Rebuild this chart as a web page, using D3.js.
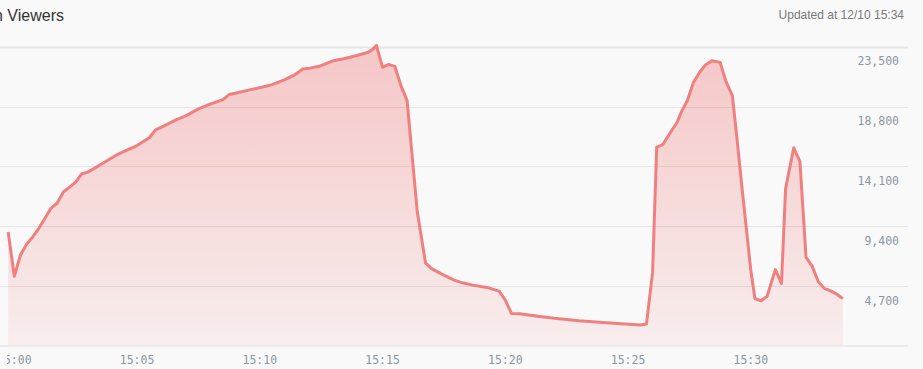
<html>
<head>
<title>Viewers</title>
<script src="https://cdn.jsdelivr.net/npm/d3@7"></script>
<style>
body {
   margin: 0;
   background: #f9f9f9;
   overflow: hidden;
}
</style>
</head>
<body>
<div id="canvas"></div>
</body>

<script>

var times = ["14:59:45", "15:00:00", "15:00:15", "15:00:30", "15:00:45", "15:01:00", "15:01:15", "15:01:30",
             "15:01:45", "15:02:00", "15:02:15", "15:02:30", "15:02:45", "15:03:00", "15:03:30", "15:04:15",
             "15:05:00", "15:05:30", "15:05:45", "15:06:00", "15:06:35", "15:07:00", "15:07:30", "15:08:00",
             "15:08:30", "15:08:45", "15:09:00", "15:09:35", "15:10:15", "15:10:30", "15:11:00", "15:11:25",
             "15:11:45", "15:12:00", "15:12:25", "15:13:00", "15:13:25", "15:13:55", "15:14:25", "15:14:35",
             "15:14:45", "15:15:00", "15:15:15", "15:15:30", "15:15:45", "15:16:00", "15:16:25", "15:16:45",
             "15:17:00", "15:17:25", "15:17:55", "15:18:15", "15:18:40", "15:19:15", "15:19:45", "15:20:00",
             "15:20:15", "15:20:35", "15:21:15", "15:22:00", "15:23:00", "15:24:25", "15:25:30", "15:25:45",
             "15:26:00", "15:26:10", "15:26:25", "15:26:45", "15:27:00", "15:27:10", "15:27:25", "15:27:40",
             "15:27:55", "15:28:10", "15:28:25", "15:28:45", "15:29:00", "15:29:15", "15:29:25", "15:29:40",
             "15:30:00", "15:30:10", "15:30:25", "15:30:40", "15:31:00", "15:31:15", "15:31:25", "15:31:45",
             "15:32:00", "15:32:15", "15:32:30", "15:32:45", "15:33:00", "15:33:15", "15:33:30", "15:33:45"];

var viewers = [8950, 5480, 7130, 7990, 8560, 9240, 10030, 10830,
               11230, 12090, 12480, 12870, 13530, 13650, 14230, 15090,
               15740, 16350, 16970, 17180, 17760, 18090, 18620, 19010,
               19350, 19740, 19840, 20110, 20390, 20520, 20890, 21280,
               21750, 21800, 21960, 22400, 22560, 22790, 23060, 23270,
               23600, 21880, 22110, 21960, 20440, 19270, 10500, 6530,
               6080, 5640, 5170, 4960, 4780, 4600, 4310, 3600,
               2560, 2530, 2350, 2170, 1980, 1780, 1650, 1720,
               5800, 15610, 15820, 16840, 17570, 18360, 19270, 20710,
               21490, 22090, 22400, 22270, 20710, 19660, 16660, 11960,
               5950, 3730, 3550, 3920, 6000, 4910, 12350, 15560,
               14490, 6950, 6270, 5040, 4520, 4330, 4070, 3730];

var yTicks = [4700, 9400, 14100, 18800, 23500];
var xTicks = ["15:00", "15:05", "15:10", "15:15", "15:20", "15:25", "15:30"];

var title = "n Viewers";
var updated = "Updated at 12/10 15:34";

var width = 923, height = 369;
var parseTime = d3.timeParse("%H:%M:%S");
var parseTick = d3.timeParse("%H:%M");

var data = times.map(function(t, i) {
   return { time: parseTime(t), value: viewers[i] };
});

var x = d3.scaleTime()
          .domain([parseTick("15:00"), parseTick("15:30")])
          .range([14.3, 750.8]);

var y = d3.scaleLinear()
          .domain([0, 23500])
          .range([346, 46.7]);

var svg = d3.select("#canvas")
            .append("svg")
            .attr("width", width)
            .attr("height", height)
            .style("display", "block");

var grad = svg.append("defs")
              .append("linearGradient")
              .attr("id", "fillGrad")
              .attr("x1", 0).attr("y1", 0)
              .attr("x2", 0).attr("y2", 1);
grad.append("stop").attr("offset", "0%").attr("stop-color", "#f08080").attr("stop-opacity", 0.42);
grad.append("stop").attr("offset", "100%").attr("stop-color", "#f08080").attr("stop-opacity", 0.1);

svg.select("defs")
   .append("clipPath")
   .attr("id", "labelClip")
   .append("rect")
   .attr("x", 7).attr("y", 0)
   .attr("width", width).attr("height", height);

// header
svg.append("text")
   .attr("x", -6)
   .attr("y", 21)
   .style("font-family", "'Liberation Sans', Arial, sans-serif")
   .style("font-size", "16px")
   .style("fill", "#333")
   .text(title);

svg.append("text")
   .attr("x", 904)
   .attr("y", 19)
   .attr("text-anchor", "end")
   .style("font-family", "'Liberation Sans', Arial, sans-serif")
   .style("font-size", "12px")
   .style("fill", "#7a7a7a")
   .text(updated);

// area + line
var area = d3.area()
             .x(function(d) { return x(d.time); })
             .y0(y(0))
             .y1(function(d) { return y(d.value); });

var line = d3.line()
             .x(function(d) { return x(d.time); })
             .y(function(d) { return y(d.value); });

svg.append("path")
   .datum(data)
   .attr("d", area)
   .attr("fill", "url(#fillGrad)");

// grid lines
svg.append("g")
   .selectAll("line")
   .data(yTicks)
   .enter()
   .append("line")
   .attr("x1", 0)
   .attr("x2", 908)
   .attr("y1", function(d) { return Math.round(y(d)) + 0.5; })
   .attr("y2", function(d) { return Math.round(y(d)) + 0.5; })
   .attr("stroke", "rgba(0,0,0,0.075)")
   .attr("stroke-width", function(d, i) { return i == yTicks.length - 1 ? 2 : 1; });

svg.append("line")
   .attr("x1", 0)
   .attr("x2", 908)
   .attr("y1", y(0))
   .attr("y2", y(0))
   .attr("stroke", "#ebebeb")
   .attr("stroke-width", 2);

svg.append("path")
   .datum(data)
   .attr("d", line)
   .attr("fill", "none")
   .attr("stroke", "#f08080")
   .attr("stroke-width", 3)
   .attr("stroke-linejoin", "round");

// y labels (sit just under their grid line)
svg.append("g")
   .selectAll("text")
   .data(yTicks)
   .enter()
   .append("text")
   .attr("x", 899)
   .attr("y", function(d) { return y(d) + 18.5; })
   .attr("text-anchor", "end")
   .style("font-family", "'DejaVu Sans Mono', monospace")
   .style("font-size", "11.5px")
   .style("fill", "#8a96a3")
   .text(function(d) { return d3.format(",")(d); });

// x labels
svg.append("g")
   .attr("clip-path", "url(#labelClip)")
   .selectAll("text")
   .data(xTicks)
   .enter()
   .append("text")
   .attr("x", function(d) { return x(parseTick(d)); })
   .attr("y", 364)
   .attr("text-anchor", "middle")
   .style("font-family", "'DejaVu Sans Mono', monospace")
   .style("font-size", "11.5px")
   .style("fill", "#8a96a3")
   .text(function(d) { return d; });

</script>
</html>
